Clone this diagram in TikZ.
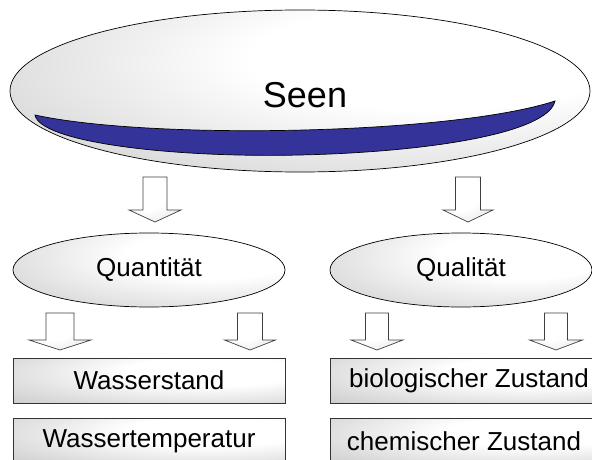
\documentclass[tikz,border=0pt]{standalone}
\usepackage{fontspec}
\setmainfont{Liberation Sans}
\usetikzlibrary{shapes.geometric}
% soft grey-to-white fill used for the ovals and the boxes
\pgfdeclareradialshading{softglow}{\pgfpoint{14bp}{12bp}}{%
  color(0bp)=(white); color(16bp)=(white); color(46bp)=(black!20); color(100bp)=(black!20)}
\pgfdeclareradialshading{arrowglow}{\pgfpoint{-10bp}{10bp}}{%
  color(0bp)=(white); color(20bp)=(white); color(50bp)=(black!15); color(100bp)=(black!15)}
\definecolor{lakeblue}{RGB}{51,51,153}
\begin{document}
\begin{tikzpicture}[x=1pt,y=-1pt,
  oval/.style={ellipse, draw=black, line width=0.7pt, shading=softglow, inner sep=0pt,
    font=\fontsize{26}{30}\selectfont},
  itembox/.style={rectangle, draw=black!80, line width=0.7pt, shading=softglow, inner sep=0pt,
    minimum width=272pt, font=\fontsize{26}{30}\selectfont},
  blockarrow/.style={draw=black!75, line width=0.7pt, shading=arrowglow, line join=miter},
  % #1 = tip x, #2 = top of shaft, #3 = base of head, #4 = tip y,
  % #5 = half shaft width, #6 = half head width
  pics/downarrow/.style n args={6}{code={
    \path[blockarrow] (#1-#5,#2) -- (#1+#5,#2) -- (#1+#5,#3) -- (#1+#6,#3)
      -- (#1,#4) -- (#1-#6,#3) -- (#1-#5,#3) -- cycle;}}]
\clip (0,0) rectangle (592,460);
\useasboundingbox (0,0) rectangle (592,460);

% lake oval with its blue water band
\node[oval, minimum width=580pt, minimum height=162pt] (seen) at (300,91) {};
\path[fill=lakeblue, draw=black, line width=0.7pt]
  (35,115) .. controls (150,140) and (450,135) .. (555,101)
  .. controls (548,133) and (430,152) .. (300,155)
  .. controls (170,158) and (40,142) .. (35,115) -- cycle;
\node[font=\fontsize{36}{40}\selectfont] (seentext) at (305,95) {Seen};

% second level
\node[oval, minimum width=272pt, minimum height=74pt] (quant) at (149,270) {Quantität};
\node[oval, minimum width=262pt, minimum height=74pt] (qual) at (461,270) {Qualität};

% leaf boxes
\node[itembox, minimum height=45pt] (stand) at (149,380.5) {Wasserstand};
\node[itembox, minimum height=46pt] (temp) at (149,441) {Wassertemperatur};
\node[itembox, minimum width=280pt, minimum height=45pt] (bio) at (470,380.5) {};
\node[font=\fontsize{26}{30}\selectfont] (biotext) at (469,380.5) {biologischer Zustand};
\node[itembox, minimum width=280pt, minimum height=46pt] (chem) at (470,441) {};
\node[font=\fontsize{26}{30}\selectfont] (chemtext) at (464,441) {chemischer Zustand};

% block arrows between the levels
\pic (a1) {downarrow={155}{177}{210}{222}{12}{26}};
\pic (a2) {downarrow={468}{177}{210}{222}{12.5}{25}};
\pic (a3) {downarrow={60}{313}{340}{350}{14}{31}};
\pic (a4) {downarrow={250}{313}{340}{350}{12.5}{25.5}};
\pic (a5) {downarrow={377}{313}{340}{350}{11.5}{26}};
\pic (a6) {downarrow={556}{313}{340}{350}{11.5}{26.5}};
\end{tikzpicture}
\end{document}
